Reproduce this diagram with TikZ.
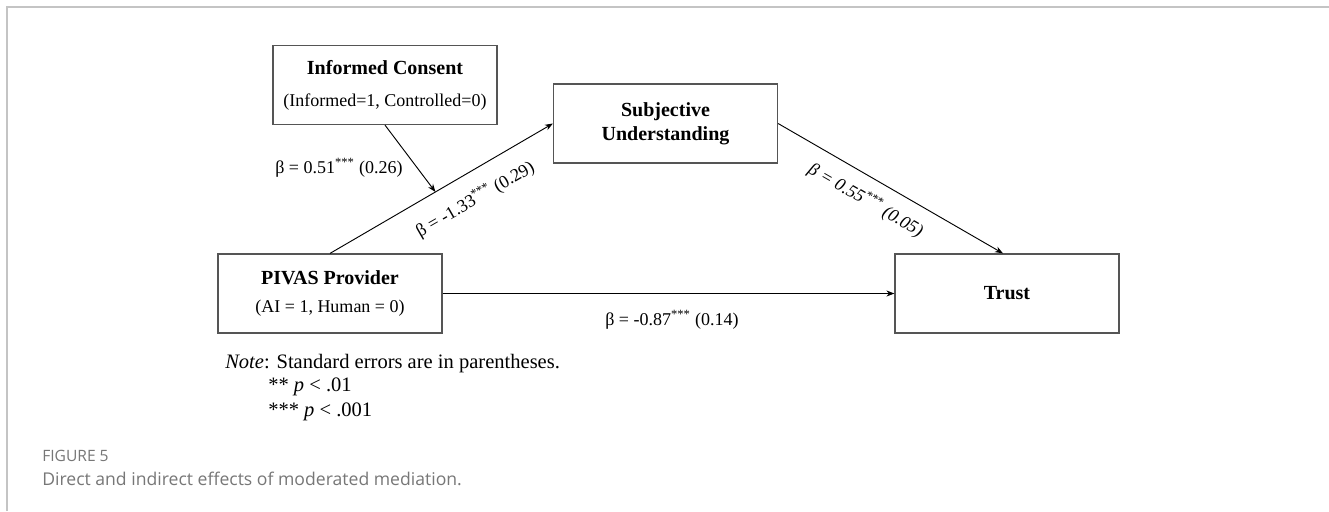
\documentclass[tikz,border=0pt]{standalone}
\usepackage{fontspec}
\setmainfont{Liberation Serif}
\newfontfamily\capfont{Open Sans}
\usetikzlibrary{arrows.meta}
\definecolor{boxgray}{HTML}{555555}
\definecolor{framegray}{HTML}{C4C4C4}
\definecolor{capgray}{HTML}{777777}
\newcommand{\subf}{\fontsize{13.5}{16}\selectfont\mdseries}
\begin{document}
\begin{tikzpicture}[x=0.75pt,y=-0.75pt,
  box/.style={draw=boxgray, line width=0.9pt, minimum width=168pt, minimum height=59.25pt,
    inner sep=0pt, align=center, font=\fontsize{15}{18}\selectfont\bfseries},
  conn/.style={-{Stealth[length=6pt,width=4.5pt]}, line width=0.7pt},
  lbl/.style={font=\fontsize{13.5}{16}\selectfont, inner sep=0pt},
  note/.style={anchor=west, inner sep=0pt, font=\fontsize{15.4}{18}\selectfont},
]
\useasboundingbox (0,0) rectangle (1329,511);
\fill[white] (0,0) rectangle (1329,511);
\draw[framegray, line width=1.1pt] (7,511) -- (7,7) -- (1329,7);

\node[box] (I) at (385,85) {Informed Consent\\[6pt]{\subf (Informed=1, Controlled=0)}};
\node[box] (S) at (665.5,123.5) {Subjective\\Understanding};
\node[box] (P) at (330,293.5) {PIVAS Provider\\[3pt]{\subf (AI = 1, Human = 0)}};
\node[box] (T) at (1007,293.5) {Trust};

\draw[conn] (P.north) -- coordinate[pos=0.473] (m) (S.west);
\draw[conn] (I.south) -- (m);
\draw[conn] (S.east) -- ([xshift=-3pt]T.north);
\draw[conn] (P.east) -- (T.west);

\node[lbl, anchor=west] (l1) at (275,168) {β = 0.51\textsuperscript{***} (0.26)};
\node[lbl, rotate=30] (l2) at (475,199) {β = -1.33\textsuperscript{***} (0.29)};
\node[lbl, rotate=-30, font=\fontsize{13.5}{16}\selectfont\itshape] (l3) at (866,200) {β = 0.55\textsuperscript{***} (0.05)};
\node[lbl] (l4) at (672,320) {β = -0.87\textsuperscript{***} (0.14)};

\node[note] (n1) at (225,364) {\textit{Note}: Standard errors are in parentheses.};
\node[note] (n2) at (268,387) {** \textit{p} < .01};
\node[note] (n3) at (268,412) {*** \textit{p} < .001};

\node[anchor=west, inner sep=0pt, text=capgray, font=\capfont\fontsize{11.7}{14}\selectfont] (c1) at (42,456) {FIGURE 5};
\node[anchor=west, inner sep=0pt, text=capgray, font=\capfont\fontsize{13.2}{16}\selectfont] (c2) at (42,479) {Direct and indirect effects of moderated mediation.};
\end{tikzpicture}
\end{document}
